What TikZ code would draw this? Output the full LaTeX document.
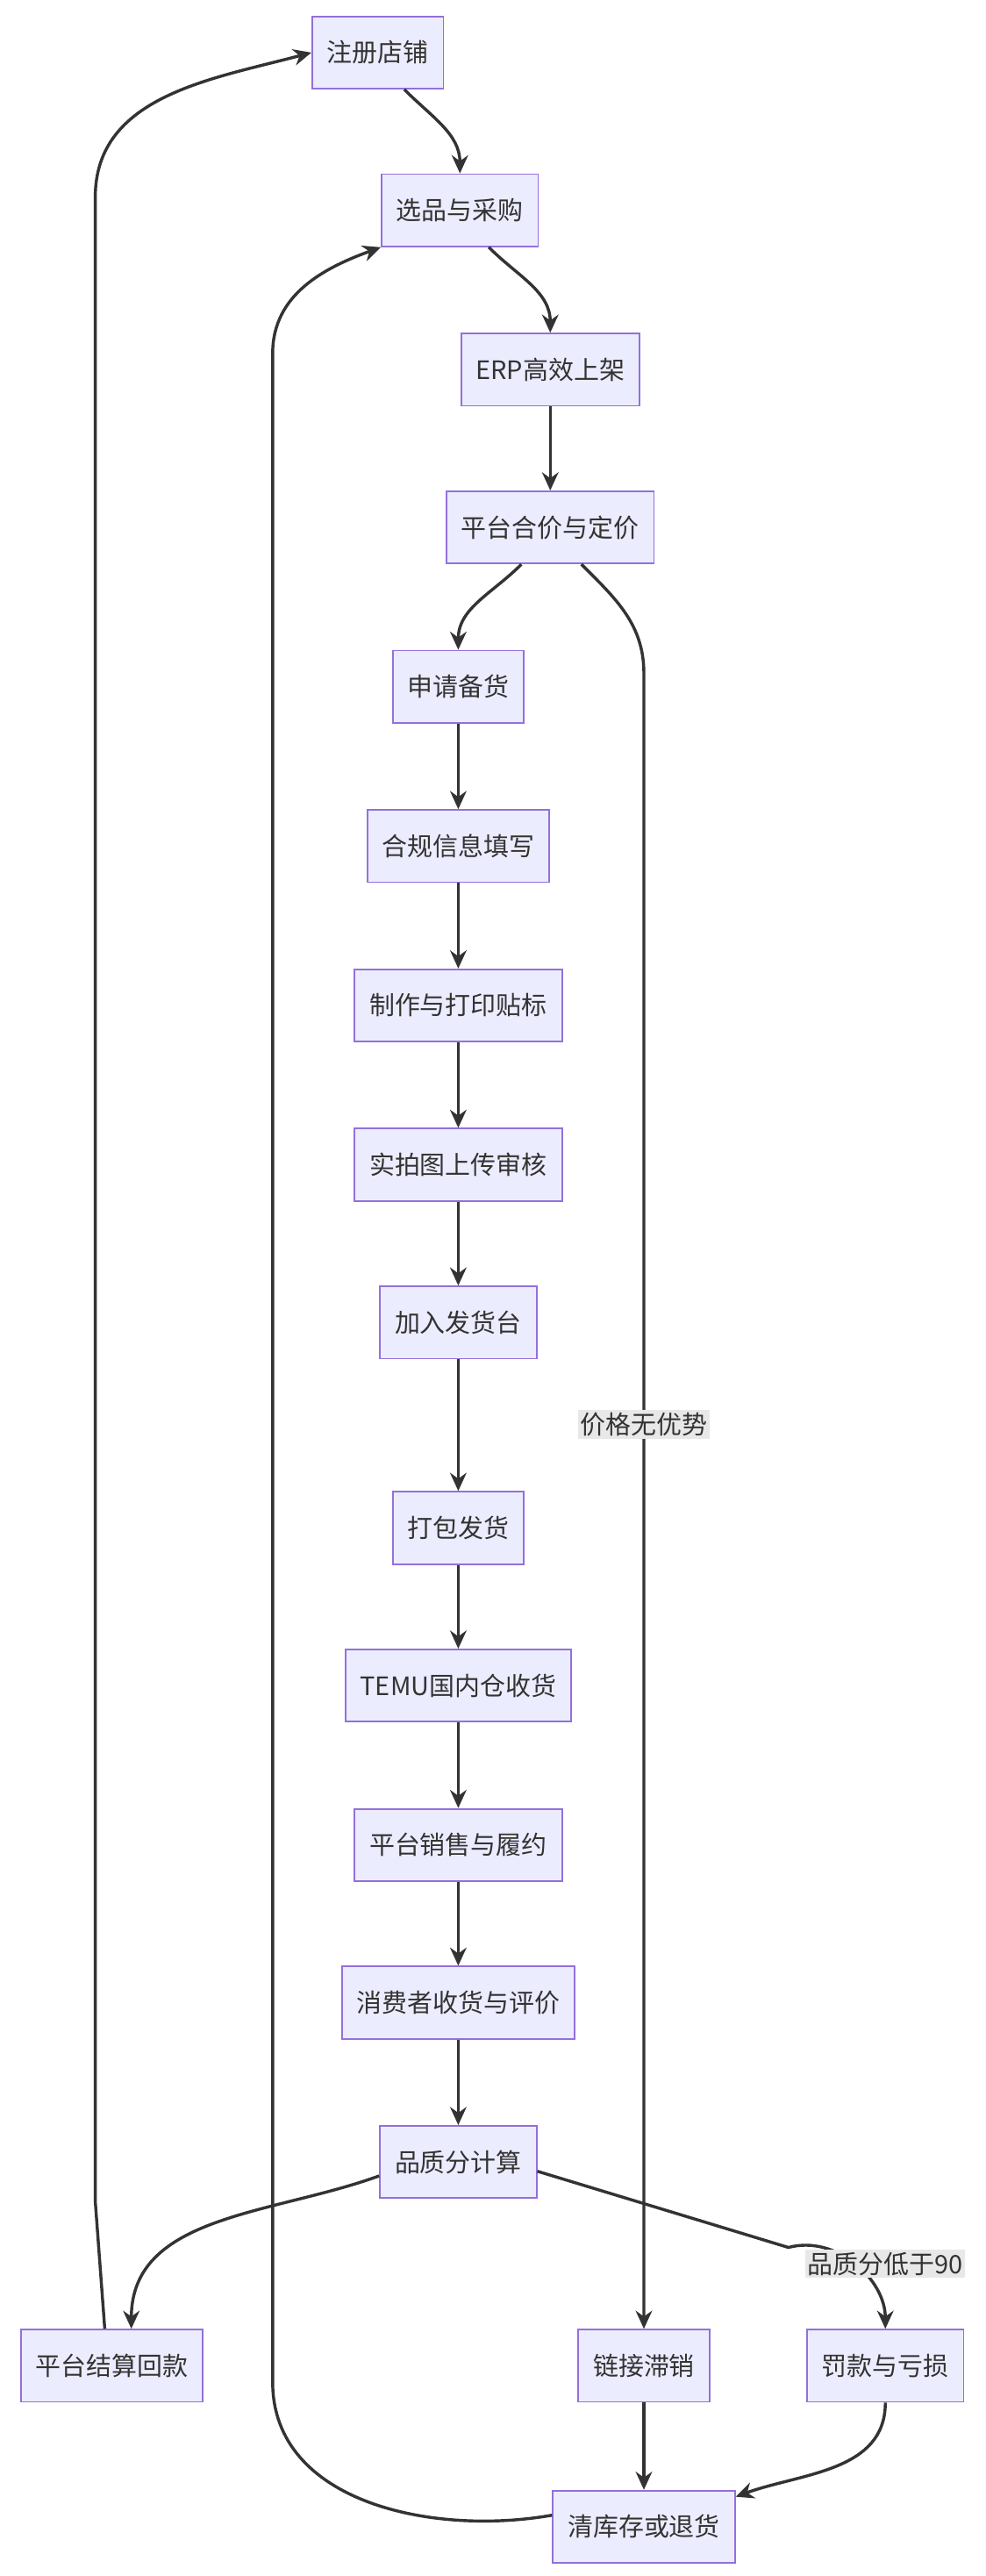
\documentclass[tikz,border=0pt]{standalone}
\usepackage{fontspec}
\setmainfont{Noto Sans CJK SC}
\usetikzlibrary{arrows.meta}
\definecolor{boxfill}{HTML}{ECECFF}
\definecolor{boxline}{HTML}{9370DB}
\definecolor{linkc}{HTML}{333333}
\begin{document}
\begin{tikzpicture}[x=0.05cm, y=-0.05cm,
    box/.style={draw=boxline, fill=boxfill, line width=1.4pt, minimum height=2.2cm,
        inner xsep=0.45cm, font=\fontsize{22}{26}\selectfont, text=linkc},
    arr/.style={-{Stealth[length=0.55cm,width=0.5cm]}, draw=linkc, line width=2.6pt},
    tag/.style={fill=gray!18, inner sep=2pt, font=\fontsize{22}{26}\selectfont, text=linkc}]
    \useasboundingbox (0,0) rectangle (600,1568);
    % Nodes
    \node [box] (zc) at (230,32)   {注册店铺};
    \node [box] (xp) at (280,128)  {选品与采购};
    \node [box] (sj) at (335,225)  {ERP高效上架};
    \node [box] (hj) at (335,321)  {平台合价与定价};
    \node [box] (bh) at (279,418)  {申请备货};
    \node [box] (hg) at (279,515)  {合规信息填写};
    \node [box] (tb) at (279,612)  {制作与打印贴标};
    \node [box] (sp) at (279,709)  {实拍图上传审核};
    \node [box] (fh) at (279,805)  {加入发货台};
    \node [box] (db) at (279,930)  {打包发货};
    \node [box] (sh) at (279,1026) {TEMU国内仓收货};
    \node [box] (xs) at (279,1123) {平台销售与履约};
    \node [box] (pj) at (279,1219) {消费者收货与评价};
    \node [box] (pz) at (279,1316) {品质分计算};
    \node [box] (hk) at (68,1440)  {平台结算回款};
    \node [box] (zx) at (392,1440) {链接滞销};
    \node [box] (fk) at (539,1440) {罚款与亏损};
    \node [box] (qk) at (392,1538) {清库存或退货};

    % Paths
    \draw [arr] ([xshift=23]zc.south) to[out=-45,in=90] (xp.north);
    \draw [arr] ([xshift=25]xp.south) to[out=-45,in=90] (sj.north);
    \draw [arr] (sj) -- (hj);
    \draw [arr] ([xshift=-25]hj.south) to[out=-135,in=90] (bh.north);
    \draw [arr] ([xshift=27]hj.south) to[out=-45,in=90] (392,410) -- (zx.north);
    \node [tag] (lb1) at (392,867) {价格无优势};
    \draw [arr] (bh) -- (hg);
    \draw [arr] (hg) -- (tb);
    \draw [arr] (tb) -- (sp);
    \draw [arr] (sp) -- (fh);
    \draw [arr] (fh) -- (db);
    \draw [arr] (db) -- (sh);
    \draw [arr] (sh) -- (xs);
    \draw [arr] (xs) -- (pj);
    \draw [arr] (pj) -- (pz);
    \draw [arr] ([yshift=-12]pz.west) to[out=200,in=90] ([xshift=17]hk.north);
    \draw [arr] ([yshift=-8]pz.east) -- (480,1368) to[out=15,in=90] (fk.north);
    \node [tag] (lb2) at (539,1378) {品质分低于90};
    \draw [arr] ([xshift=-6]hk.north) -- (58,1340) -- (58,120) to[out=90,in=195] (zc.west);
    \draw [arr] (zx) -- (qk);
    \draw [arr] (fk.south) to[out=-90,in=20] ([yshift=-6]qk.north east);
    \draw [arr] ([yshift=10]qk.west) to[out=190,in=-90] (166,1450) -- (166,215) to[out=90,in=200] (xp.south west);
\end{tikzpicture}
\end{document}
